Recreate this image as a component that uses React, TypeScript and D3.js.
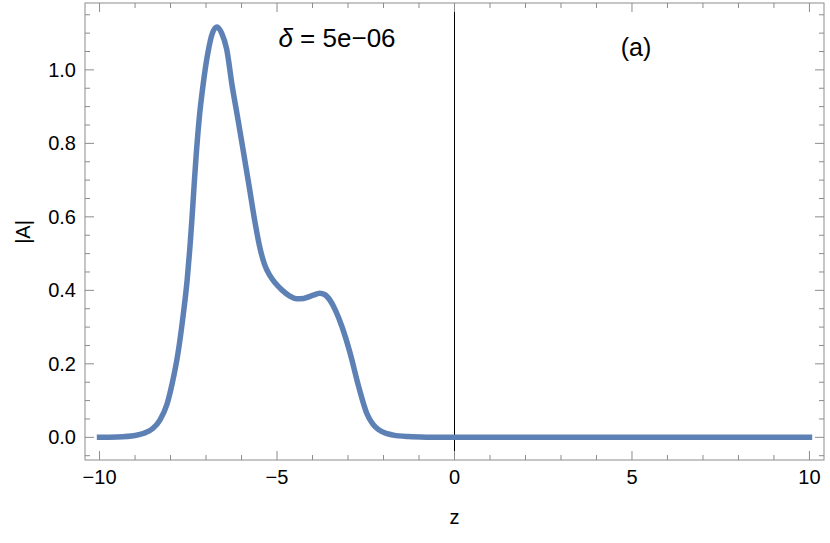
import React from "react";
import * as d3 from "d3";

const zValues = [-10, -9.5, -9, -8.75, -8.5, -8.3, -8.1, -7.95, -7.79, -7.66, -7.53, -7.46, -7.4, -7.34, -7.28, -7.19, -7.09, -6.95, -6.82, -6.69, -6.56, -6.42, -6.26, -6.1, -5.94, -5.78, -5.62, -5.48, -5.35, -5.2, -5.05, -4.85, -4.65, -4.45, -4.25, -4.0, -3.8, -3.65, -3.5, -3.35, -3.17, -2.94, -2.7, -2.47, -2.3, -2.14, -1.9, -1.72, -1.3, -0.8, 0, 5, 10];
const aValues = [0, 0.001, 0.005, 0.011, 0.024, 0.047, 0.09, 0.148, 0.229, 0.32, 0.43, 0.51, 0.59, 0.68, 0.765, 0.87, 0.954, 1.045, 1.1, 1.117, 1.1, 1.057, 0.954, 0.865, 0.773, 0.68, 0.585, 0.515, 0.47, 0.44, 0.42, 0.4, 0.385, 0.377, 0.378, 0.386, 0.392, 0.388, 0.372, 0.345, 0.301, 0.229, 0.138, 0.065, 0.036, 0.021, 0.01, 0.006, 0.002, 0.0005, 0, 0, 0];

const xMajorTicks = [-10, -5, 0, 5, 10];
const xTickLabels = ["\u221210", "\u22125", "0", "5", "10"];
const yMajorTicks = [0, 0.2, 0.4, 0.6, 0.8, 1.0];
const yTickLabels = ["0.0", "0.2", "0.4", "0.6", "0.8", "1.0"];

const W = 830;
const H = 543;
const left = 85, right = 824, top = 3, bottom = 460;
const frameColor = "#8c8c8c";
const lineColor = "#5e81b5";
const font = "'Liberation Sans', Arial, sans-serif";

export default function App() {
  const x = d3.scaleLinear().domain([-10.41, 10.41]).range([left, right]);
  const y = d3.scaleLinear().domain([-0.0617, 1.182]).range([bottom, top]);

  const data = zValues.map((z, i) => [z, aValues[i]] as [number, number]);
  const line = d3.line<[number, number]>()
    .x(d => x(d[0]))
    .y(d => y(d[1]))
    .curve(d3.curveMonotoneX);

  const xMinor = d3.range(-10, 10.001, 1).filter(v => Math.round(v) % 5 !== 0);
  const yMinorAll = d3.range(-0.05, 1.1501, 0.05).map(v => Math.round(v * 100) / 100);
  const yMinor = yMinorAll.filter(v => !yMajorTicks.some(m => Math.abs(m - v) < 1e-6));

  return (
    <svg width={W} height={H} style={{ position: "absolute", left: 0, top: 0 }}>
      <rect x={0} y={0} width={W} height={H} fill="white" />
      <line x1={x(0)} x2={x(0)} y1={top} y2={bottom} stroke="black" strokeWidth={1} />
      <path d={line(data) || ""} fill="none" stroke={lineColor} strokeWidth={5.5} strokeLinecap="square" strokeLinejoin="round" />
      <rect x={left} y={top} width={right - left} height={bottom - top} fill="none" stroke={frameColor} strokeWidth={1} />
      {xMajorTicks.map(t => (
        <g key={"xm" + t}>
          <line x1={x(t)} x2={x(t)} y1={bottom} y2={bottom - 9} stroke={frameColor} />
          <line x1={x(t)} x2={x(t)} y1={top} y2={top + 9} stroke={frameColor} />
        </g>
      ))}
      {xMinor.map(t => (
        <g key={"xn" + t}>
          <line x1={x(t)} x2={x(t)} y1={bottom} y2={bottom - 5} stroke={frameColor} />
          <line x1={x(t)} x2={x(t)} y1={top} y2={top + 5} stroke={frameColor} />
        </g>
      ))}
      {yMajorTicks.map(t => (
        <g key={"ym" + t}>
          <line x1={left} x2={left + 9} y1={y(t)} y2={y(t)} stroke={frameColor} />
          <line x1={right} x2={right - 9} y1={y(t)} y2={y(t)} stroke={frameColor} />
        </g>
      ))}
      {yMinor.map(t => (
        <g key={"yn" + t}>
          <line x1={left} x2={left + 5} y1={y(t)} y2={y(t)} stroke={frameColor} />
          <line x1={right} x2={right - 5} y1={y(t)} y2={y(t)} stroke={frameColor} />
        </g>
      ))}
      {xMajorTicks.map((t, i) => (
        <text key={"xl" + t} x={x(t)} y={477} fontSize={20} fontFamily={font} textAnchor="middle" dominantBaseline="central">{xTickLabels[i]}</text>
      ))}
      {yMajorTicks.map((t, i) => (
        <text key={"yl" + t} x={76} y={y(t)} fontSize={20} fontFamily={font} textAnchor="end" dominantBaseline="central">{yTickLabels[i]}</text>
      ))}
      <text x={x(0)} y={517} fontSize={20} fontFamily={font} textAnchor="middle" dominantBaseline="central">z</text>
      <text transform={`translate(23,232) rotate(-90)`} fontSize={20} fontFamily={font} textAnchor="middle" dominantBaseline="central">|A|</text>
      <text x={337} y={38} fontSize={26} fontFamily={font} textAnchor="middle" dominantBaseline="central">
        <tspan fontStyle="italic">δ</tspan> = 5e−06
      </text>
      <text x={636} y={47} fontSize={25} fontFamily={font} textAnchor="middle" dominantBaseline="central">(a)</text>
    </svg>
  );
}
